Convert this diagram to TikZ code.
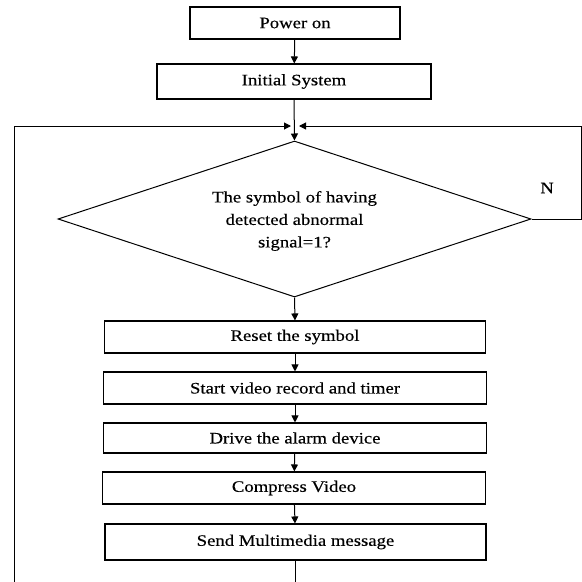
\documentclass[tikz,border=0pt]{standalone}
\usepackage{fontspec}
\setmainfont{Liberation Serif}[FakeStretch=1.17, FakeBold=0.3]
\usetikzlibrary{shapes.geometric,arrows.meta}
\begin{document}
\begin{tikzpicture}[x=1pt,y=-1pt,
  line width=1pt,
  font=\fontsize{16}{22.5}\selectfont,
  stepbox/.style={draw, line width=1.1pt, rectangle, inner sep=0pt},
  arr/.style={-{Triangle[length=7pt,width=7pt]}},
  decbox/.style={draw, line width=1pt, diamond, aspect=3, inner sep=0pt,
                 minimum width=473pt, minimum height=156pt, align=center}]
\useasboundingbox (0,0) rectangle (582,582);
% nodes
\node[stepbox, minimum width=210pt, minimum height=32pt] (power) at (295,23) {Power on};
\node[stepbox, minimum width=274pt, minimum height=35pt] (init) at (294,81.5) {Initial System};
\coordinate (j) at (294.5,126);
\coordinate (jl) at (291,126);
\coordinate (jr) at (299,126);
\node[decbox] (dec) at (294.5,219) {};
\node[align=center] (dectext) at (294.5,221) {The symbol of having\\detected abnormal\\signal=1?};
\node (n) at (547,188) {N};
\node[stepbox, minimum width=381pt, minimum height=32pt] (reset) at (295,337) {Reset the symbol};
\node[stepbox, minimum width=383pt, minimum height=32pt] (start) at (295,388) {Start video record and timer};
\node[stepbox, minimum width=383pt, minimum height=30pt] (drive) at (295,438) {Drive the alarm device};
\node[stepbox, minimum width=383pt, minimum height=32pt] (comp) at (294,488) {Compress Video};
\node[stepbox, minimum width=381pt, minimum height=36pt] (send) at (295.5,542) {Send Multimedia message};
\coordinate (rtop) at (581,126);
\coordinate (rmid) at (581,219);
\coordinate (lbot) at (14,582);
\coordinate (ltop) at (14,126);
\coordinate (sbot) at (send.south |- 0,582);
% connectors
\draw[arr] (power) -- (init);
\draw[arr] (init.south) -- (dec.north);
\draw[arr] (lbot) -- (ltop) -- (jl);
\draw[arr] (dec.east) -- (rmid) -- (rtop) -- (jr);
\draw[arr] (dec.south) -- (reset.north);
\draw[arr] (reset) -- (start);
\draw[arr] (start) -- (drive);
\draw[arr] (drive) -- (comp);
\draw[arr] (comp) -- (send);
\draw (send.south) -- (sbot);
\end{tikzpicture}
\end{document}
